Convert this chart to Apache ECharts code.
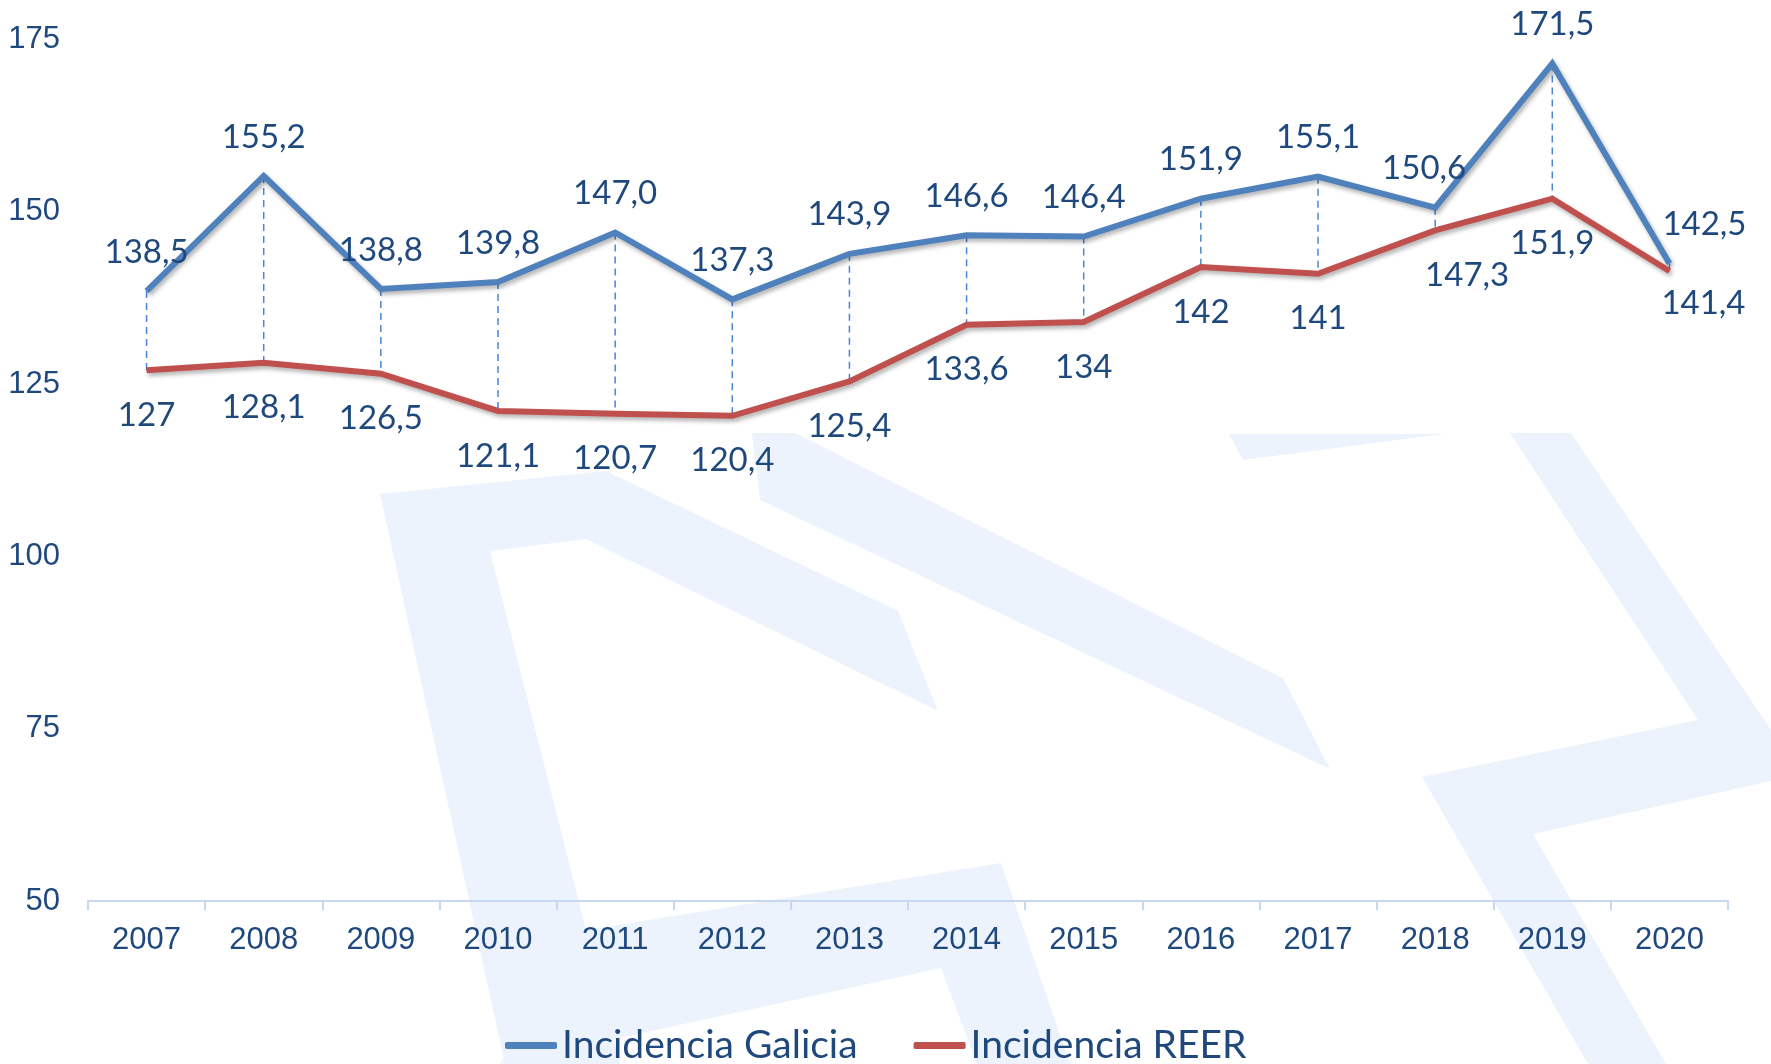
<!DOCTYPE html>
<html>
<head>
<meta charset="utf-8">
<script src="https://cdn.jsdelivr.net/npm/echarts@6/dist/echarts.min.js"></script>
<style>
  html, body { margin: 0; padding: 0; background: #fff; }
  #chart { width: 1771px; height: 1064px; }
</style>
</head>
<body>
<div id="chart"></div>
<script>
var years = ['2007', '2008', '2009', '2010', '2011', '2012', '2013', '2014', '2015', '2016', '2017', '2018', '2019', '2020'];
var galicia = [138.5, 155.2, 138.8, 139.8, 147.0, 137.3, 143.9, 146.6, 146.4, 151.9, 155.1, 150.6, 171.5, 142.5];
var reer = [127, 128.1, 126.5, 121.1, 120.7, 120.4, 125.4, 133.6, 134, 142, 141, 147.3, 151.9, 141.4];
var yTicks = [50, 75, 100, 125, 150, 175];

// a few labels are nudged sideways in the original
var galOffsets = { 11: [-11, 0], 13: [35, 0] };
var reerOffsets = { 11: [32, 0], 13: [34, -13] };

var textColor = '#1F497D';
var wm = '#EDF3FD';

var chart = echarts.init(document.getElementById('chart'));

function withOffsets(values, offsets) {
  return values.map(function (v, i) {
    return offsets[i] ? { value: v, label: { offset: offsets[i] } } : v;
  });
}

// background watermark (logo shapes)
var watermark = [
  [[380, 494], [606, 471], [898, 611], [938, 711], [586, 539], [490, 551], [620, 1064], [505, 1064]],
  [[575, 932], [1001, 863], [1070, 1064], [977, 1064], [941, 968], [500, 1064]],
  [[752, 433], [795, 433], [1283, 678], [1330, 769], [760, 500]],
  [[1229, 434], [1444, 434], [1243, 460]],
  [[1510, 433], [1571, 433], [1771, 730], [1771, 781], [1533, 834], [1666, 1064], [1588, 1064], [1422, 777], [1698, 720]]
].map(function (pts) {
  return { type: 'polygon', silent: true, z: -10, shape: { points: pts }, style: { fill: wm } };
});

var lineShadow = { shadowColor: 'rgba(0,0,0,0.3)', shadowBlur: 4, shadowOffsetX: 2, shadowOffsetY: 3 };

option = {
  animation: false,
  graphic: watermark,
  grid: { left: 88, right: 43, top: 39.5, bottom: 163, outerBoundsMode: 'none' },
  legend: {
    left: 500,
    top: 1021,
    itemGap: 56,
    itemWidth: 52,
    itemHeight: 7,
    icon: 'roundRect',
    data: ['Incidencia Galicia', 'Incidencia REER'],
    textStyle: { color: textColor, fontSize: 39, fontFamily: 'Lato' }
  },
  xAxis: {
    type: 'category',
    data: years,
    boundaryGap: true,
    axisLine: { lineStyle: { color: '#C8D8F0', width: 2 } },
    axisTick: { show: true, length: 9, lineStyle: { color: '#C8D8F0', width: 2 } },
    axisLabel: { color: textColor, fontSize: 31, fontFamily: 'Liberation Sans', margin: 24 }
  },
  yAxis: {
    type: 'value',
    min: yTicks[0],
    max: yTicks[yTicks.length - 1],
    interval: yTicks[1] - yTicks[0],
    axisLine: { show: false },
    axisTick: { show: false },
    splitLine: { show: false },
    axisLabel: { color: textColor, fontSize: 31, fontFamily: 'Liberation Sans', margin: 28 }
  },
  series: [
    {
      name: 'drop',
      type: 'custom',
      z: 1,
      silent: true,
      data: years.map(function (y, i) { return [i, galicia[i], reer[i]]; }),
      renderItem: function (params, api) {
        var a = api.coord([api.value(0), api.value(1)]);
        var b = api.coord([api.value(0), api.value(2)]);
        return {
          type: 'line',
          shape: { x1: a[0], y1: a[1], x2: b[0], y2: b[1] },
          style: { stroke: '#4A86D4', lineWidth: 1.5, lineDash: [7, 5] }
        };
      }
    },
    {
      name: 'Incidencia Galicia',
      type: 'line',
      data: withOffsets(galicia, galOffsets),
      symbol: 'circle',
      symbolSize: 1,
      showSymbol: true,
      color: '#4F81BD',
      itemStyle: { color: '#4F81BD' },
      lineStyle: Object.assign({ width: 6, color: '#4F81BD', join: 'miter' }, lineShadow),
      label: {
        show: true,
        position: 'top',
        distance: 22,
        color: textColor,
        fontSize: 33,
        fontFamily: 'Lato',
        formatter: function (p) { return p.value.toFixed(1).replace('.', ','); }
      }
    },
    {
      name: 'Incidencia REER',
      type: 'line',
      data: withOffsets(reer, reerOffsets),
      symbol: 'circle',
      symbolSize: 1,
      showSymbol: true,
      color: '#C0504D',
      itemStyle: { color: '#C0504D' },
      lineStyle: Object.assign({ width: 6, color: '#C0504D', join: 'miter' }, lineShadow),
      label: {
        show: true,
        position: 'bottom',
        distance: 28,
        color: textColor,
        fontSize: 33,
        fontFamily: 'Lato',
        formatter: function (p) { return String(p.value).replace('.', ','); }
      }
    }
  ]
};

chart.setOption(option);
</script>
</body>
</html>
